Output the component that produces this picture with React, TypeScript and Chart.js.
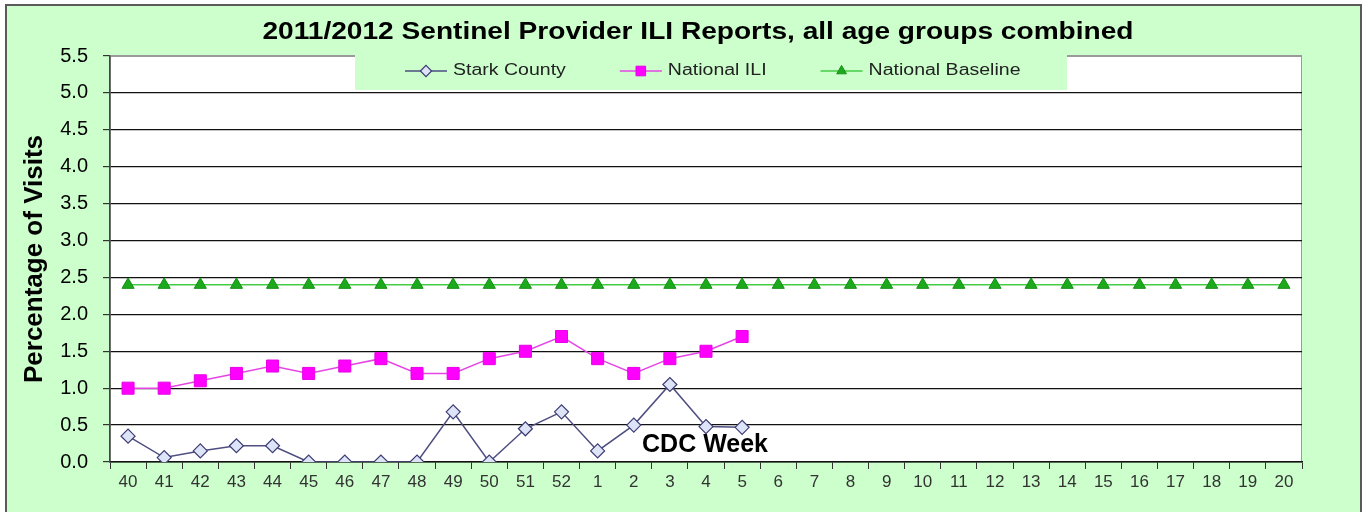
import React, { useEffect, useRef } from 'react';
import { Chart, registerables } from 'chart.js';
import { drawPoint } from 'chart.js/helpers';

Chart.register(...registerables);

const FONT = '"Liberation Sans", Arial, sans-serif';

const chartTitle = '2011/2012 Sentinel Provider ILI Reports, all age groups combined';
const xAxisTitle = 'CDC Week';
const yAxisTitle = 'Percentage of Visits';

const weeks = [
  '40', '41', '42', '43', '44', '45', '46', '47', '48', '49', '50', '51', '52',
  '1', '2', '3', '4', '5', '6', '7', '8', '9', '10', '11', '12', '13', '14',
  '15', '16', '17', '18', '19', '20',
];

const starkCounty = [
  0.35, 0.06, 0.15, 0.22, 0.22, 0.0, 0.0, 0.0, 0.0, 0.68, 0.0, 0.45, 0.68,
  0.15, 0.5, 1.05, 0.48, 0.47,
];

const nationalILI = [
  1.0, 1.0, 1.1, 1.2, 1.3, 1.2, 1.3, 1.4, 1.2, 1.2, 1.4, 1.5, 1.7,
  1.4, 1.2, 1.4, 1.5, 1.7,
];

const nationalBaseline = [
  2.4, 2.4, 2.4, 2.4, 2.4, 2.4, 2.4, 2.4, 2.4, 2.4, 2.4, 2.4, 2.4,
  2.4, 2.4, 2.4, 2.4, 2.4, 2.4, 2.4, 2.4, 2.4, 2.4, 2.4, 2.4, 2.4, 2.4,
  2.4, 2.4, 2.4, 2.4, 2.4, 2.4,
];

const yMin = 0;
const yMax = 5.5;
const yStep = 0.5;

const framePlugin = {
  id: 'frame',
  beforeDraw(chart: any) {
    const { ctx, width, height, chartArea: a } = chart;
    ctx.save();
    ctx.fillStyle = '#ffffff';
    ctx.fillRect(0, 0, width, height);
    ctx.fillStyle = '#ccffcc';
    ctx.fillRect(5, 4, width - 10, height - 4);
    ctx.strokeStyle = '#5a5a5a';
    ctx.lineWidth = 2;
    ctx.beginPath();
    ctx.moveTo(6, height);
    ctx.lineTo(6, 5);
    ctx.lineTo(width - 5, 5);
    ctx.lineTo(width - 5, height);
    ctx.stroke();
    ctx.fillStyle = '#ffffff';
    ctx.fillRect(a.left, a.top, a.right - a.left, a.bottom - a.top);
    ctx.strokeStyle = '#9a9a9a';
    ctx.lineWidth = 1;
    ctx.strokeRect(a.left + 0.5, a.top + 0.5, a.right - a.left - 1, a.bottom - a.top - 1);
    ctx.restore();
  },
};

const textPlugin = {
  id: 'texts',
  afterDraw(chart: any) {
    const { ctx } = chart;
    ctx.save();
    // Title (horizontally stretched like the reference)
    ctx.font = `bold 23px ${FONT}`;
    ctx.fillStyle = '#000';
    ctx.textAlign = 'center';
    ctx.textBaseline = 'middle';
    const tw = ctx.measureText(chartTitle).width;
    const sx = 871 / tw;
    ctx.save();
    ctx.translate(698, 33);
    ctx.scale(sx, 1);
    ctx.fillText(chartTitle, 0, 0);
    ctx.restore();

    // CDC Week label inside plot
    ctx.font = `bold 25px ${FONT}`;
    ctx.fillStyle = '#000';
    ctx.fillText(xAxisTitle, 705, 445);

    // Legend box
    ctx.fillStyle = '#ccffcc';
    ctx.fillRect(355, 55, 712, 35);
    const stretch = 1.22;
    ctx.font = `16px ${FONT}`;
    ctx.textAlign = 'left';
    let x = 405;
    const y = 71;
    chart.data.datasets.forEach((ds: any) => {
      ctx.strokeStyle = ds.borderColor;
      ctx.lineWidth = ds.borderWidth;
      ctx.beginPath();
      ctx.moveTo(x, y);
      ctx.lineTo(x + 42, y);
      ctx.stroke();
      ctx.fillStyle = ds.pointBackgroundColor;
      ctx.strokeStyle = ds.pointBorderColor;
      ctx.lineWidth = ds.pointBorderWidth;
      drawPoint(ctx, { pointStyle: ds.pointStyle, radius: ds.pointRadius * 0.8, rotation: 0, borderWidth: ds.pointBorderWidth }, x + 21, y);
      ctx.fillStyle = '#222';
      const w = ctx.measureText(ds.label).width * stretch;
      ctx.save();
      ctx.translate(x + 48, y);
      ctx.scale(stretch, 1);
      ctx.fillText(ds.label, 0, 0);
      ctx.restore();
      x += 48 + w + 54;
    });
    ctx.restore();
  },
};

export default function App() {
  const canvasRef = useRef<HTMLCanvasElement | null>(null);

  useEffect(() => {
    if (!canvasRef.current) return;
    const chart = new Chart(canvasRef.current, {
      type: 'line',
      data: {
        labels: weeks,
        datasets: [
          {
            label: 'Stark County',
            data: starkCounty,
            borderColor: '#4e4e80',
            borderWidth: 1.5,
            pointStyle: 'rectRot',
            pointRadius: 7,
            pointBackgroundColor: '#dde4f8',
            pointBorderColor: '#3c3c72',
            pointBorderWidth: 1.2,
            tension: 0,
          },
          {
            label: 'National ILI',
            data: nationalILI,
            borderColor: '#e645e6',
            borderWidth: 1.5,
            pointStyle: 'rect',
            pointRadius: 8.5,
            pointBackgroundColor: '#ff00ff',
            pointBorderColor: '#e600e6',
            pointBorderWidth: 1,
            tension: 0,
          },
          {
            label: 'National Baseline',
            data: nationalBaseline,
            borderColor: '#44cc44',
            borderWidth: 1.5,
            pointStyle: 'triangle',
            pointRadius: 7,
            pointBackgroundColor: '#1caa1c',
            pointBorderColor: '#159015',
            pointBorderWidth: 1,
            tension: 0,
          },
        ],
      },
      options: {
        responsive: false,
        animation: false,
        layout: { padding: { top: 56, right: 64, bottom: 0, left: 0 } },
        plugins: {
          legend: { display: false },
          title: { display: false },
          tooltip: { enabled: false },
        },
        scales: {
          x: {
            type: 'category',
            offset: true,
            afterFit: (s: any) => { s.height = 50; },
            grid: {
              drawOnChartArea: false,
              offset: true,
              tickLength: 7,
              tickColor: '#333',
            },
            border: { display: true, color: '#111', width: 1.5 },
            ticks: {
              autoSkip: false,
              maxRotation: 0,
              padding: 3,
              color: '#333',
              font: { family: FONT, size: 17 },
            },
          },
          y: {
            min: yMin,
            max: yMax,
            afterFit: (s: any) => { s.width = 110; },
            grid: {
              color: (c: any) => (c.tick && c.tick.value === yMax ? '#9a9a9a' : '#111'),
              lineWidth: 1.2,
              tickLength: 7,
              tickColor: '#333',
            },
            border: { display: true, color: '#444', width: 1.5 },
            ticks: {
              stepSize: yStep,
              padding: 15,
              color: '#000',
              font: { family: FONT, size: 20 },
              callback: (v: any) => Number(v).toFixed(1),
            },
            title: {
              display: true,
              text: yAxisTitle,
              color: '#000',
              font: { family: FONT, size: 26, weight: 'bold' },
              padding: { top: 19, bottom: 0 },
            },
          },
        },
      },
      plugins: [framePlugin, textPlugin],
    } as any);
    return () => chart.destroy();
  }, []);

  return (
    <div style={{ position: 'fixed', left: 0, top: 0, width: 1366, height: 512 }}>
      <canvas ref={canvasRef} width={1366} height={512} style={{ display: 'block' }} />
    </div>
  );
}
